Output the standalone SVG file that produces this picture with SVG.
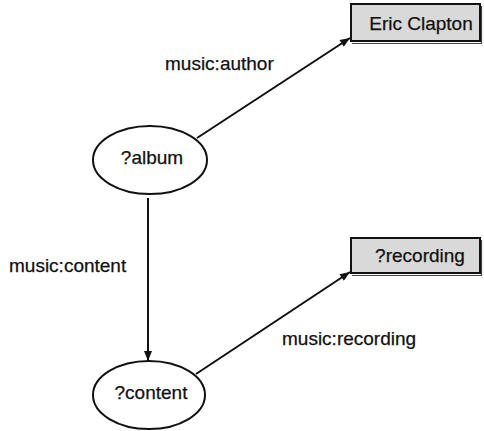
<svg xmlns="http://www.w3.org/2000/svg" width="484" height="431" viewBox="0 0 484 431">
  <style>
    .lbl { font-family: "Liberation Sans", Arial, sans-serif; font-size: 19px; fill: #111; stroke: #111; stroke-width: 0.25; }
    .mid { text-anchor: middle; }
    .ell { fill: #fff; stroke: #111; stroke-width: 2; }
    .box { fill: #d9d9d9; stroke: #111; stroke-width: 2; }
    .shadow { fill: none; stroke: #444; stroke-width: 1.2; }
    .edge { fill: none; stroke: #111; stroke-width: 2; marker-end: url(#arrow); }
  </style>
  <defs>
    <marker id="arrow" viewBox="0 0 10 8" refX="10" refY="4" markerWidth="11" markerHeight="8" markerUnits="userSpaceOnUse" orient="auto">
      <path d="M0,0 L10,4 L0,8 Z" fill="#111"/>
    </marker>
  </defs>
  <rect width="484" height="431" fill="#fff"/>

  <g id="connectors">
    <line class="edge" x1="197" y1="138" x2="350" y2="38"/>
    <line class="edge" x1="148" y1="198" x2="148" y2="361"/>
    <line class="edge" x1="196" y1="374" x2="350" y2="272"/>
    <text class="lbl" x="165" y="70">music:author</text>
    <text class="lbl" x="9" y="272">music:content</text>
    <text class="lbl" x="282" y="345">music:recording</text>
  </g>

  <g id="eric-clapton">
    <path class="shadow" d="M352,43.5 H481.5 V6"/>
    <rect class="box" x="351" y="4" width="129" height="37"/>
    <text class="lbl mid" x="421" y="30">Eric Clapton</text>
  </g>

  <g id="album">
    <ellipse class="ell" cx="150" cy="160" rx="57" ry="34"/>
    <text class="lbl mid" x="152" y="164">?album</text>
  </g>

  <g id="recording">
    <path class="shadow" d="M352,275.5 H481.5 V240"/>
    <rect class="box" x="351" y="238" width="129" height="35"/>
    <text class="lbl mid" x="420" y="262">?recording</text>
  </g>

  <g id="content">
    <ellipse class="ell" cx="149" cy="395" rx="56" ry="34"/>
    <text class="lbl mid" x="151" y="399">?content</text>
  </g>
</svg>
